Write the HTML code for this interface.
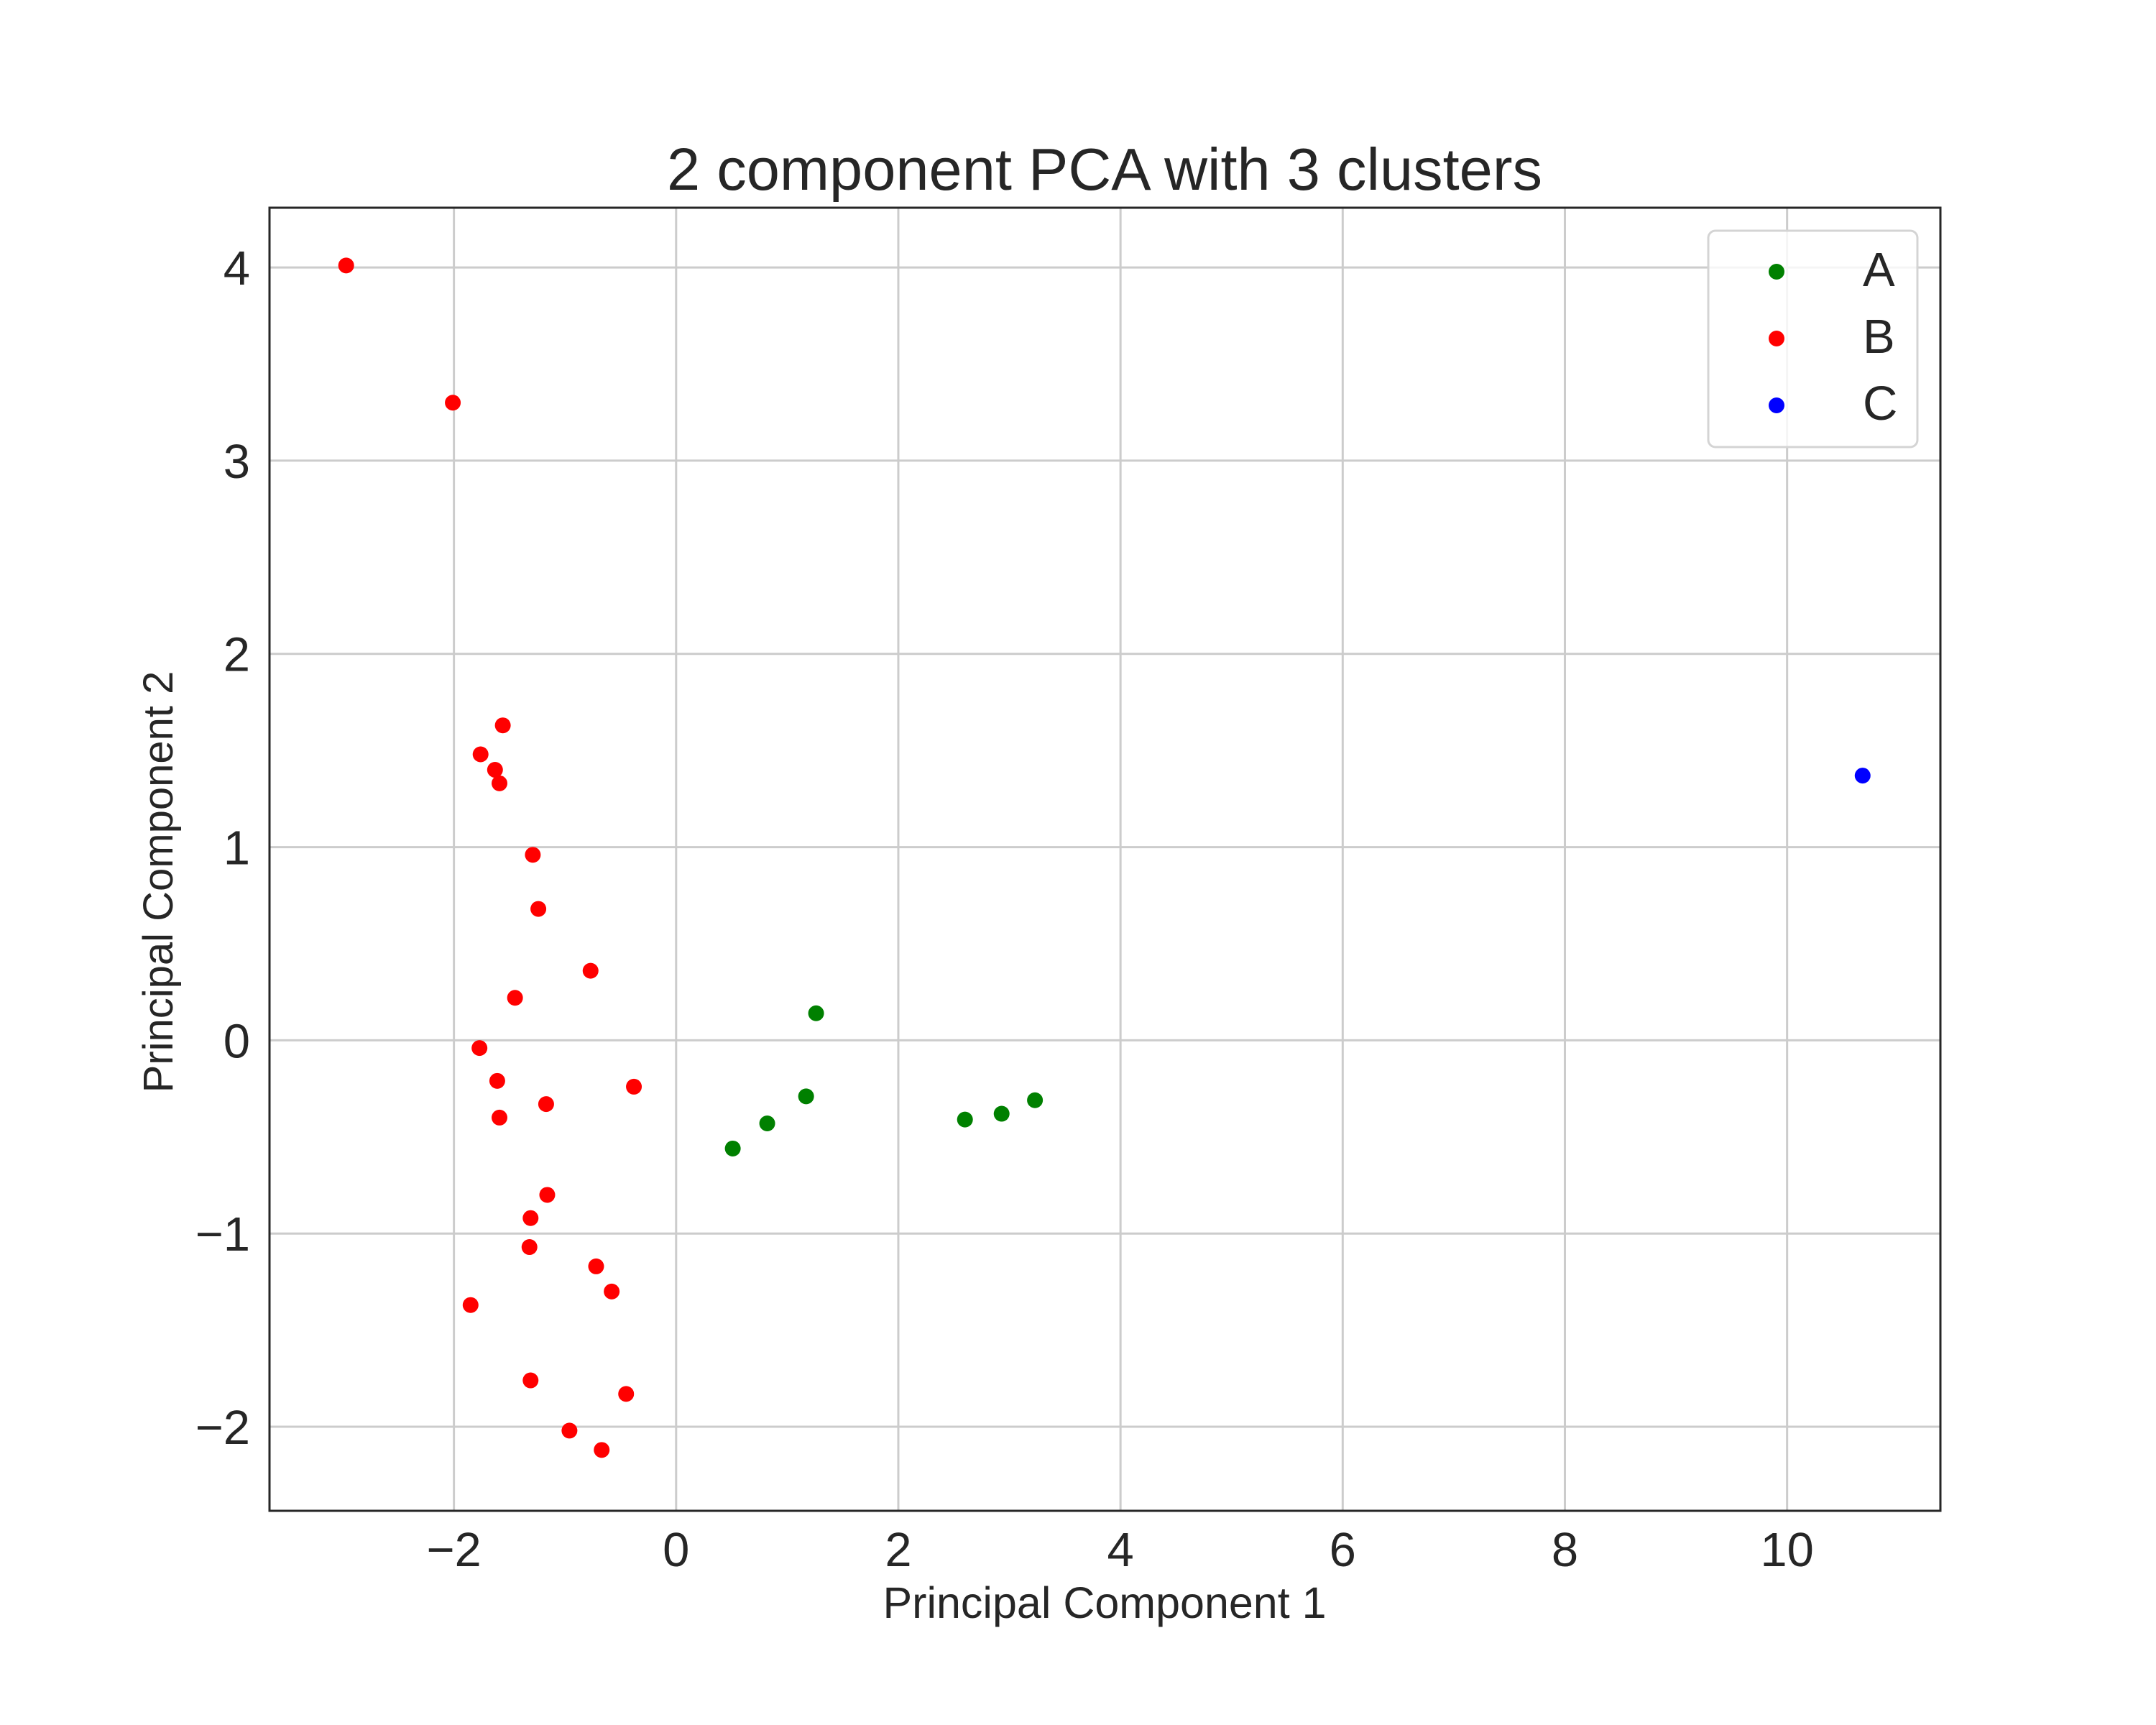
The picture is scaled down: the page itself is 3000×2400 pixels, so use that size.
<!DOCTYPE html>
<html><head><meta charset="utf-8"><style>
html,body{margin:0;padding:0;background:#fff;}
svg{display:block;font-family:"Liberation Sans",Arial,sans-serif;}
</style></head><body>
<svg id="chart" width="3000" height="2400" viewBox="0 0 3000 2400" xmlns="http://www.w3.org/2000/svg">
<rect width="3000" height="2400" fill="#fff"/>
<g id="grid"></g>
<g id="points"></g>
<rect x="375" y="289" width="2325" height="1813" fill="none" stroke="#262626" stroke-width="3"/>
<g id="ticks" fill="#262626" font-size="67"></g>
<text x="1537" y="264" text-anchor="middle" font-size="83" fill="#262626">2 component PCA with 3 clusters</text>
<text x="1537" y="2251" text-anchor="middle" font-size="61" fill="#262626">Principal Component 1</text>
<text transform="translate(240,1227) rotate(-90)" text-anchor="middle" font-size="58" fill="#262626">Principal Component 2</text>
<g id="legend"></g>
</svg>
<script>
const xTicks = [-2, 0, 2, 4, 6, 8, 10];
const yTicks = [-2, -1, 0, 1, 2, 3, 4];
const seriesNames = ["A", "B", "C"];
const seriesColors = ["#008000", "#ff0000", "#0000ff"];
const aX = [0.51, 0.82, 1.17, 1.26, 2.60, 2.93, 3.23];
const aY = [-0.56, -0.43, -0.29, 0.14, -0.41, -0.38, -0.31];
const bX = [-2.97, -2.01, -1.56, -1.76, -1.63, -1.59, -1.29, -1.24, -0.77, -1.45, -1.77, -1.61, -0.38, -1.17, -1.59, -1.16, -1.31, -1.32, -0.72, -0.58, -1.85, -1.31, -0.45, -0.96, -0.67];
const bY = [4.01, 3.30, 1.63, 1.48, 1.40, 1.33, 0.96, 0.68, 0.36, 0.22, -0.04, -0.21, -0.24, -0.33, -0.40, -0.80, -0.92, -1.07, -1.17, -1.30, -1.37, -1.76, -1.83, -2.02, -2.12];
const cX = [10.68];
const cY = [1.37];

const NS = "http://www.w3.org/2000/svg";
const L = 375, R = 2700, T = 289, B = 2102;
const xMin = -3.66, xMax = 11.38, yMin = -2.435, yMax = 4.309;
function sx(v){ return L + (v - xMin) / (xMax - xMin) * (R - L); }
function sy(v){ return B - (v - yMin) / (yMax - yMin) * (B - T); }
function mk(tag, attrs, parent){ const e = document.createElementNS(NS, tag); for (const k in attrs) e.setAttribute(k, attrs[k]); parent.appendChild(e); return e; }
function fmt(v){ return v < 0 ? "\u2212" + Math.abs(v) : String(v); }

const grid = document.getElementById("grid");
const ticks = document.getElementById("ticks");
xTicks.forEach(v => {
  const g = mk("line", {x1: sx(v), x2: sx(v), y1: T, y2: B, stroke: "#cccccc", "stroke-width": 3}, grid);
  
  
  const t = mk("text", {x: sx(v), y: B + 77, "text-anchor": "middle"}, ticks);
  t.textContent = fmt(v);
  
  
});
yTicks.forEach(v => {
  const g = mk("line", {x1: L, x2: R, y1: sy(v), y2: sy(v), stroke: "#cccccc", "stroke-width": 3}, grid);
  
  
  const t = mk("text", {x: 348, y: sy(v) + 24, "text-anchor": "end"}, ticks);
  t.textContent = fmt(v);
  
  
});

const pts = document.getElementById("points");
const series = [[aX, aY], [bX, bY], [cX, cY]];
series.forEach((s, i) => {
  s[0].forEach((xv, j) => {
    const c = mk("circle", {cx: sx(xv), cy: sy(s[1][j]), r: 11, fill: seriesColors[i]}, pts);
    
    
  });
});

const lg = document.getElementById("legend");
const box = mk("rect", {x: 2377, y: 321, width: 291, height: 301, rx: 10, fill: "#fff", "fill-opacity": 0.8, stroke: "#d4d4d4", "stroke-width": 3}, lg);


seriesNames.forEach((n, i) => {
  const y = 378 + i * 93;
  const c = mk("circle", {cx: 2472, cy: y, r: 11, fill: seriesColors[i]}, lg);
  
  
  const t = mk("text", {x: 2592, y: y + 20, "font-size": 67, fill: "#262626"}, lg);
  t.textContent = n;
  
  
});
</script>
</body></html>
